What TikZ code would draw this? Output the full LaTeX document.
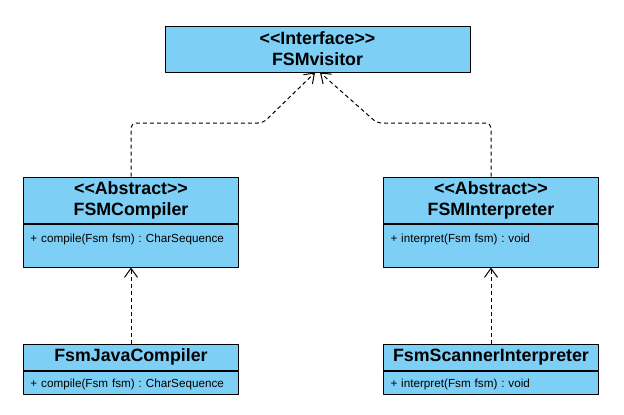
\documentclass[tikz,border=0pt]{standalone}
\usepackage{fontspec}
\setmainfont{Liberation Sans}
\usetikzlibrary{arrows.meta,positioning}
\definecolor{umlblue}{RGB}{125,207,246}
\frenchspacing
\newcommand{\stereo}[1]{<\kern0pt<#1>\kern0pt>}
\tikzset{
	classhead/.style={draw, fill=umlblue, line width=1pt, minimum width=215pt, inner sep=0pt, align=center, font=\bfseries\fontsize{17.8}{21}\selectfont},
	classbody/.style={draw, fill=umlblue, line width=1pt, anchor=north, text width=201pt, inner xsep=7pt, inner ysep=0pt, align=left, font=\fontsize{11.7}{14}\selectfont},
	realize/.style={dash pattern=on 4pt off 3pt, line width=1pt, -{Straight Barb[length=9pt,width=13pt]}}
}
\begin{document}
\begin{tikzpicture}[x=1pt, y=-1pt, line join=round]
	\useasboundingbox (0,0) rectangle (624,415);
	% interface
	\node[classhead, minimum width=305pt, minimum height=46pt] (visitor) at (317.5,49) {\stereo{Interface}\\FSMvisitor};
	% abstract classes
	\node[classhead, minimum height=46pt] (compiler) at (131,200) {\stereo{Abstract}\\FSMCompiler};
	\node[classbody, text height=18.5pt, text depth=24.5pt] (compilerops) at (compiler.south) {+ compile(Fsm fsm) : CharSequence};
	\node[classhead, minimum height=46pt] (interp) at (491,200) {\stereo{Abstract}\\FSMInterpreter};
	\node[classbody, text height=18.5pt, text depth=24.5pt] (interpops) at (interp.south) {+ interpret(Fsm fsm) : void};
	% concrete classes
	\node[classhead, minimum height=26pt] (javac) at (131,357) {FsmJavaCompiler};
	\node[classbody, text height=16pt, text depth=7pt] (javacops) at (javac.south) {+ compile(Fsm fsm) : CharSequence};
	\node[classhead, minimum height=26pt] (scanner) at (491,357) {FsmScannerInterpreter};
	\node[classbody, text height=16pt, text depth=7pt] (scannerops) at (scanner.south) {+ interpret(Fsm fsm) : void};
	% connectors
	\coordinate (lelbow) at (263,123);
	\coordinate (relbow) at (377,123);
	\draw[realize, rounded corners=5pt] (compiler.north) |- (lelbow) -- ([xshift=-2.5pt]visitor.south);
	\draw[realize, rounded corners=5pt] (interp.north) |- (relbow) -- ([xshift=2.5pt]visitor.south);
	\draw[realize] (javac) -- (compilerops);
	\draw[realize] (scanner) -- (interpops);
\end{tikzpicture}
\end{document}
